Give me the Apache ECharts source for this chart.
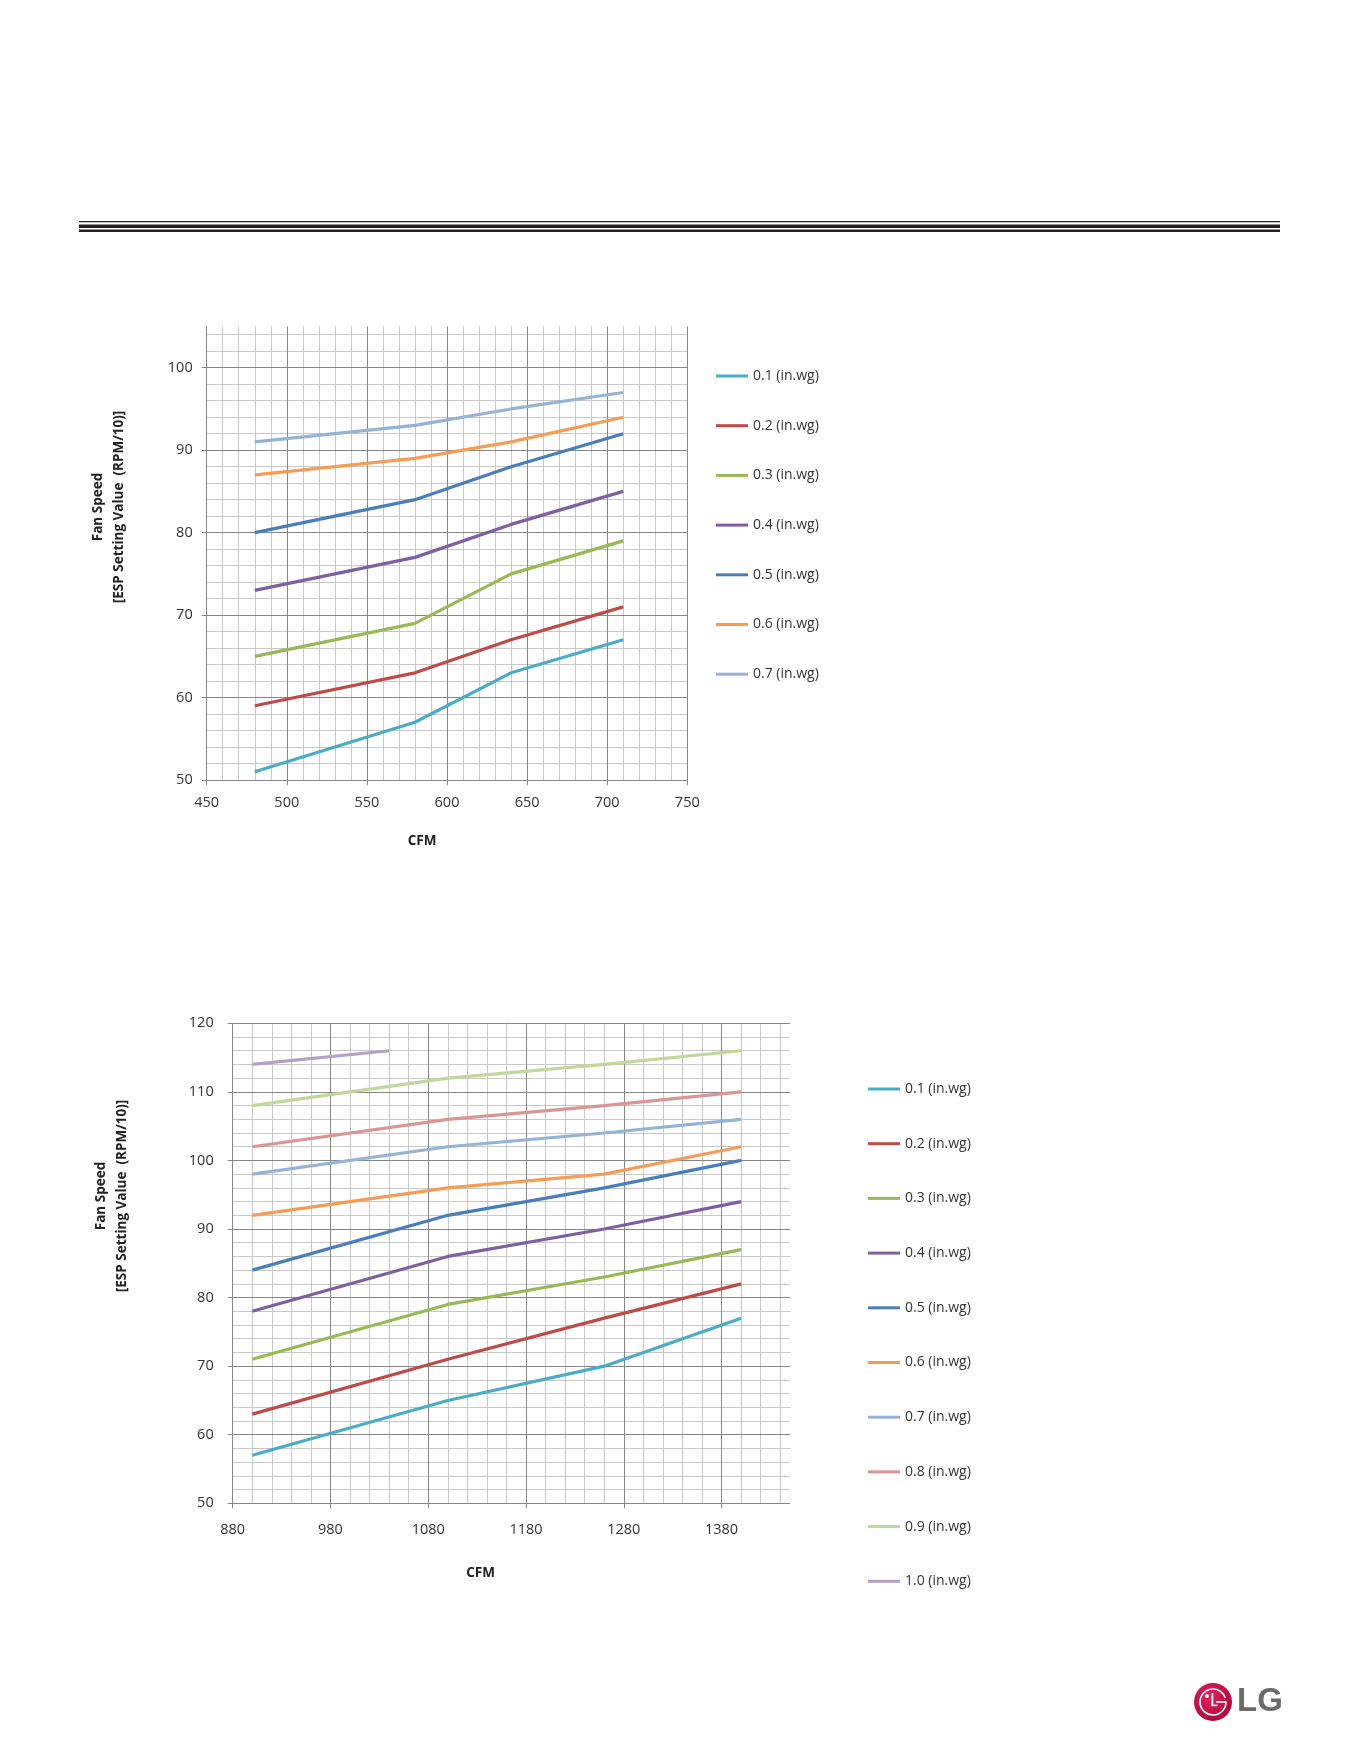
<!DOCTYPE html>
<html>
<head>
<meta charset="utf-8">
<script src="https://cdn.jsdelivr.net/npm/echarts@6/dist/echarts.min.js"></script>
<style>
  html, body { margin: 0; padding: 0; background: #fff; }
  #chart { width: 1361px; height: 1761px; }
</style>
</head>
<body>
<div id="chart"></div>
<script>
// upper chart: CFM points and fan speed per static pressure
const cfmUpper = [480, 580, 640, 710];
const upper01 = [51, 57, 63, 67];
const upper02 = [59, 63, 67, 71];
const upper03 = [65, 69, 75, 79];
const upper04 = [73, 77, 81, 85];
const upper05 = [80, 84, 88, 92];
const upper06 = [87, 89, 91, 94];
const upper07 = [91, 93, 95, 97];
const upperNames = ['0.1 (in.wg)', '0.2 (in.wg)', '0.3 (in.wg)', '0.4 (in.wg)',
  '0.5 (in.wg)', '0.6 (in.wg)', '0.7 (in.wg)'];

// lower chart
const cfmLower = [900, 1100, 1260, 1400];
const cfmLower10 = [900, 1040];
const lower01 = [57, 65, 70, 77];
const lower02 = [63, 71, 77, 82];
const lower03 = [71, 79, 83, 87];
const lower04 = [78, 86, 90, 94];
const lower05 = [84, 92, 96, 100];
const lower06 = [92, 96, 98, 102];
const lower07 = [98, 102, 104, 106];
const lower08 = [102, 106, 108, 110];
const lower09 = [108, 112, 114, 116];
const lower10 = [114, 116];
const lowerNames = ['0.1 (in.wg)', '0.2 (in.wg)', '0.3 (in.wg)', '0.4 (in.wg)',
  '0.5 (in.wg)', '0.6 (in.wg)', '0.7 (in.wg)', '0.8 (in.wg)', '0.9 (in.wg)', '1.0 (in.wg)'];

const colors = ['#4bacc6', '#be4b48', '#98b954', '#7d60a0', '#4a7ebb',
  '#f59d56', '#95b3d7', '#d99694', '#c3d69b', '#b3a2c7'];

const upperValues = [upper01, upper02, upper03, upper04, upper05, upper06, upper07];
const lowerValues = [lower01, lower02, lower03, lower04, lower05, lower06, lower07, lower08, lower09, lower10];

const majorGray = '#868686';
const minorGray = '#c8c8c8';
const font = 'Open Sans';

const zip = (xs, ys) => ys.map((y, i) => [xs[i], y]);

function majorAxis(grid, min, max, step, margin, opts = {}) {
  return {
    gridIndex: grid, type: 'value', min, max, interval: step, z: 2,
    axisLine: { show: true, onZero: false, lineStyle: { color: majorGray } },
    axisTick: { show: true, length: 5, lineStyle: { color: majorGray } },
    axisLabel: { margin, fontFamily: font, fontSize: 14.5, color: '#333',
      showMaxLabel: opts.showMaxLabel, formatter: v => String(v) },
    splitLine: { show: true, showMaxLine: opts.showMaxLine, lineStyle: { color: majorGray } }
  };
}
function minorAxis(grid, min, max, step, showMaxLine) {
  return {
    gridIndex: grid, type: 'value', min, max, interval: step, z: 1,
    axisLine: { show: false }, axisTick: { show: false }, axisLabel: { show: false },
    splitLine: { show: true, showMaxLine, lineStyle: { color: minorGray } }
  };
}

const series = [];
upperValues.forEach((vals, i) => series.push({
  name: upperNames[i], type: 'line', xAxisIndex: 0, yAxisIndex: 0,
  data: zip(cfmUpper, vals), symbol: 'none', color: colors[i],
  lineStyle: { width: 3.2, color: colors[i] }, z: 3
}));
lowerValues.forEach((vals, i) => series.push({
  name: lowerNames[i], type: 'line', xAxisIndex: 2, yAxisIndex: 2,
  data: zip(i === 9 ? cfmLower10 : cfmLower, vals), symbol: 'none', color: colors[i],
  lineStyle: { width: 3.2, color: colors[i] }, z: 3
}));

const legendBase = {
  orient: 'vertical', padding: 0, itemWidth: 32, itemHeight: 3, icon: 'rect',
  selectedMode: false,
  textStyle: { fontFamily: font, fontSize: 14, color: '#333', lineHeight: 16 }
};

const titleFont = 'bold 13.5px "Open Sans"';
function vText(x, y, text) {
  return { type: 'text', x, y, rotation: Math.PI / 2,
    style: { text, font: titleFont, fill: '#222', align: 'center', verticalAlign: 'middle' } };
}
function hText(x, y, text) {
  return { type: 'text', x, y,
    style: { text, font: titleFont, fill: '#222', align: 'center', verticalAlign: 'middle' } };
}

const chart = echarts.init(document.getElementById('chart'));
chart.setOption({
  animation: false,
  backgroundColor: '#fff',
  grid: [
    { left: 206.7, top: 326.5, width: 480.6, height: 453.5 },
    { left: 232.7, top: 1023.3, width: 557.3, height: 480 }
  ],
  xAxis: [
    majorAxis(0, 450, 750, 50, 15),
    minorAxis(0, 450, 750, 10, true),
    majorAxis(1, 880, 1450, 100, 19, { showMaxLabel: false, showMaxLine: false }),
    minorAxis(1, 880, 1450, 20, false)
  ],
  yAxis: [
    majorAxis(0, 50, 105, 10, 14, { showMaxLabel: false, showMaxLine: false }),
    minorAxis(0, 50, 105, 2, false),
    majorAxis(1, 50, 120, 10, 19),
    minorAxis(1, 50, 120, 2, true)
  ],
  legend: [
    Object.assign({}, legendBase, { data: upperNames, left: 716, top: 368, itemGap: 33.7 }),
    Object.assign({}, legendBase, { data: lowerNames, left: 868, top: 1081, itemGap: 38.7 })
  ],
  series,
  graphic: [
    // header rules
    { type: 'rect', shape: { x: 79, y: 221, width: 1201, height: 1.3 }, style: { fill: '#231f20' } },
    { type: 'rect', shape: { x: 79, y: 224.5, width: 1201, height: 3.5 }, style: { fill: '#231f20' } },
    { type: 'rect', shape: { x: 79, y: 229.5, width: 1201, height: 2.5 }, style: { fill: '#231f20' } },
    // axis titles
    vText(98.5, 507, 'Fan Speed'),
    vText(119, 507, '[ESP Setting Value  (RPM/10)]'),
    hText(422, 841, 'CFM'),
    vText(101, 1196, 'Fan Speed'),
    vText(122, 1196, '[ESP Setting Value  (RPM/10)]'),
    hText(480.5, 1573, 'CFM'),
    // LG logo
    {
      type: 'group', x: 1213, y: 1702,
      children: [
        { type: 'circle', shape: { cx: 0, cy: 0, r: 19 },
          style: { fill: new echarts.graphic.RadialGradient(0.4, 0.35, 0.8,
            [{ offset: 0, color: '#e0245e' }, { offset: 1, color: '#a50034' }]) } },
        { type: 'arc', shape: { cx: 0, cy: 0, r: 13, startAngle: -0.05, endAngle: Math.PI * 1.9, clockwise: true },
          style: { stroke: '#fff', lineWidth: 1.6, fill: null } },
        { type: 'rect', shape: { x: 3, y: -0.8, width: 10, height: 1.6 }, style: { fill: '#fff' } },
        { type: 'rect', shape: { x: -1.5, y: -9, width: 1.8, height: 13 }, style: { fill: '#fff' } },
        { type: 'rect', shape: { x: -1.5, y: 2.6, width: 6, height: 1.6 }, style: { fill: '#fff' } },
        { type: 'circle', shape: { cx: -6, cy: -6, r: 1.9 }, style: { fill: '#fff' } }
      ]
    },
    { type: 'text', x: 1237, y: 1702,
      style: { text: 'LG', font: 'bold 33px "Liberation Sans"', fill: '#6b6b6b', align: 'left', verticalAlign: 'middle' } }
  ]
});
</script>
</body>
</html>
